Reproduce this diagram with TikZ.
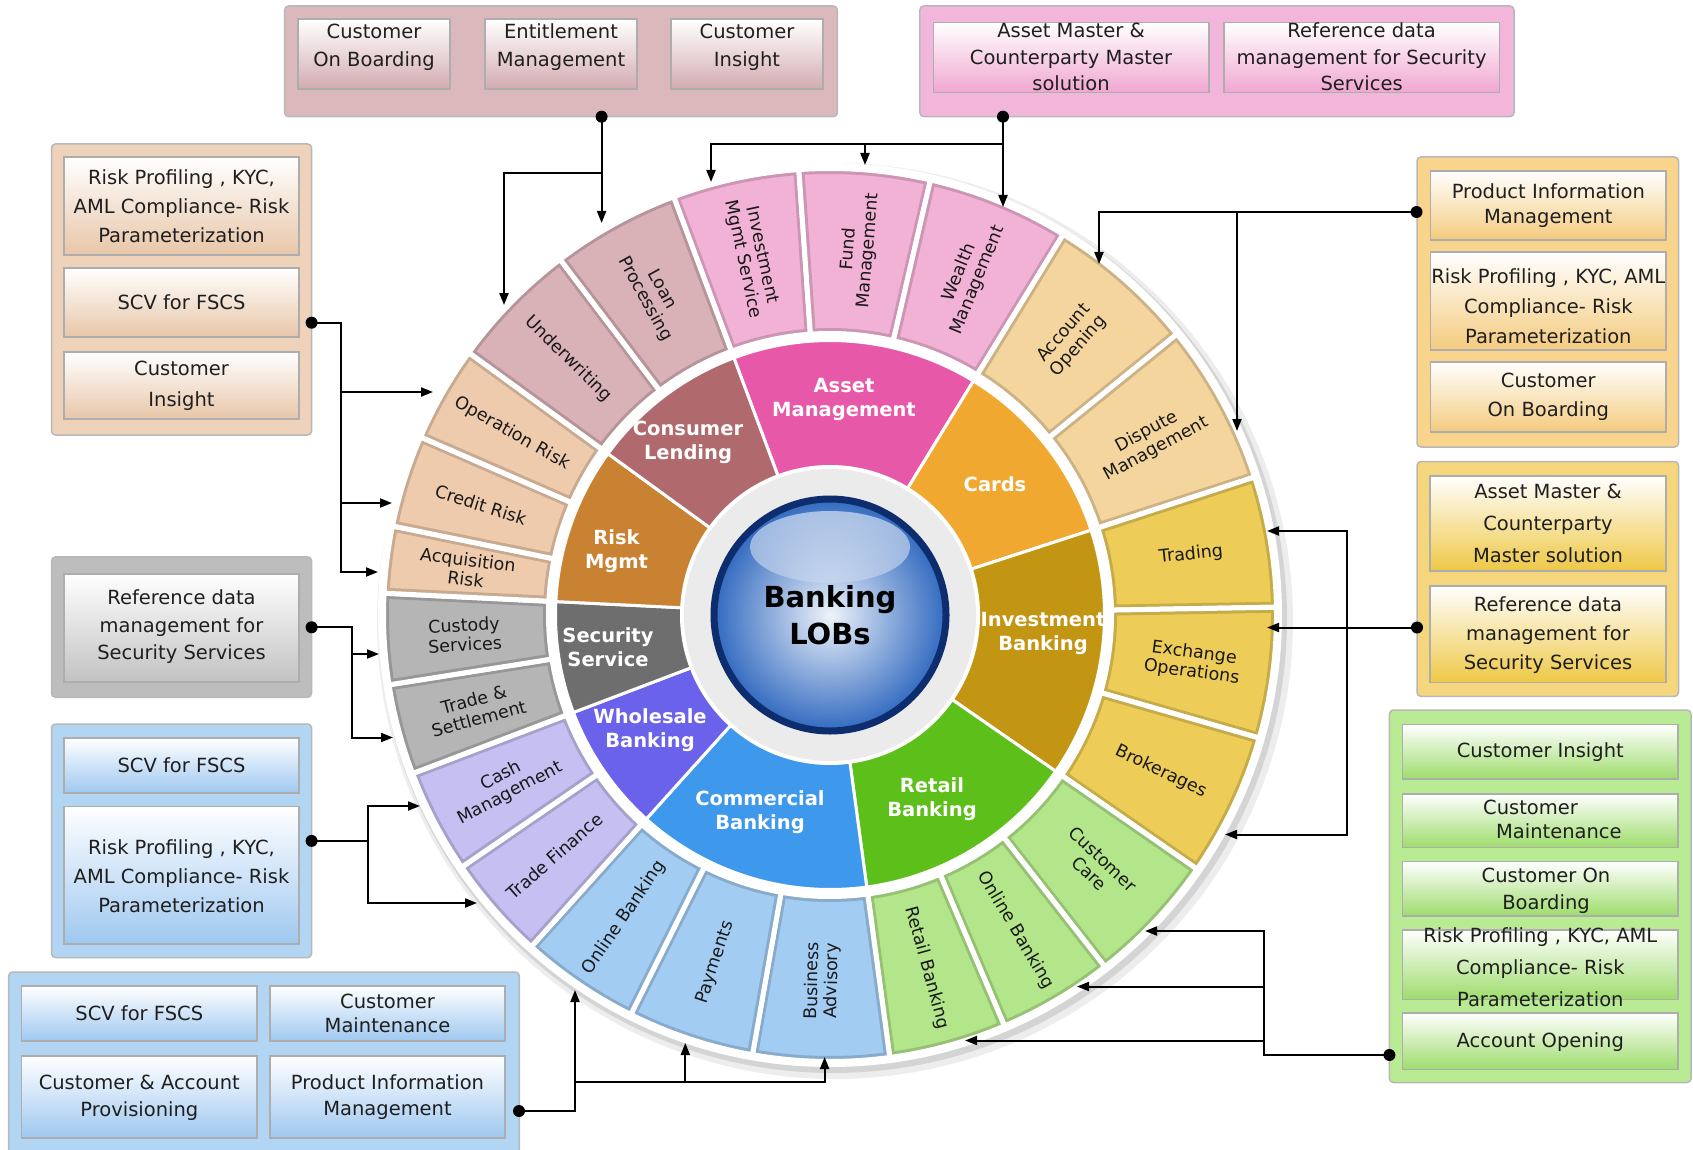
\documentclass[tikz,border=0pt]{standalone}
\usepackage{fontspec}
\setmainfont{DejaVu Sans}
\usetikzlibrary{arrows.meta}
\definecolor{wPink}{HTML}{F2B2D6}
\definecolor{wPeach}{HTML}{F4D59E}
\definecolor{wYel}{HTML}{EDCC58}
\definecolor{wLGreen}{HTML}{B3E68A}
\definecolor{wLBlue}{HTML}{A3CCF2}
\definecolor{wLav}{HTML}{C6C0F2}
\definecolor{wGray}{HTML}{B5B5B5}
\definecolor{wTan}{HTML}{EFCBAD}
\definecolor{wMauve}{HTML}{D9B2B8}
\definecolor{iAsset}{HTML}{E858A8}
\definecolor{iCards}{HTML}{F0A830}
\definecolor{iIB}{HTML}{C29612}
\definecolor{iRetail}{HTML}{5CBF1A}
\definecolor{iComm}{HTML}{3E98EC}
\definecolor{iWhole}{HTML}{6A62EA}
\definecolor{iSec}{HTML}{6E6E6E}
\definecolor{iRisk}{HTML}{C98232}
\definecolor{iCons}{HTML}{B0696C}
\definecolor{sphEdge}{HTML}{2F68BF}
\definecolor{sphIn}{HTML}{EEF3FA}
\definecolor{sphRing}{HTML}{0D2D6E}
\definecolor{kMauve}{HTML}{DAB8BC}
\definecolor{kMauveIn}{HTML}{D3ABB0}
\definecolor{kPink}{HTML}{F2B6DA}
\definecolor{kPinkIn}{HTML}{F0A6D0}
\definecolor{kTan}{HTML}{EFD2BA}
\definecolor{kTanIn}{HTML}{E8C6A8}
\definecolor{kGray}{HTML}{BDBDBD}
\definecolor{kGrayIn}{HTML}{C2C2C2}
\definecolor{kBlue}{HTML}{B3D5F4}
\definecolor{kBlueIn}{HTML}{9FC8F0}
\definecolor{kPeach}{HTML}{F8D48C}
\definecolor{kPeachIn}{HTML}{F4CB7E}
\definecolor{kYel}{HTML}{F6D67C}
\definecolor{kYelIn}{HTML}{EEC846}
\definecolor{kGreen}{HTML}{B8EB94}
\definecolor{kGreenIn}{HTML}{9EDC6C}

\newcommand\boxfnt{\fontsize{19.5}{28}\selectfont}
\newcommand\outfnt{\fontsize{17.5}{19.5}\selectfont}
\newcommand\innfnt{\fontsize{19.5}{24}\selectfont\bfseries}
\newcommand\ctrfnt{\fontsize{29}{36.5}\selectfont\bfseries}
\newcommand\wsec[5]{\filldraw[#5] (#1:#3) arc[start angle=#1, end angle=#2, radius=#3] -- (#2:#4) arc[start angle=#2, end angle=#1, radius=#4] -- cycle;}
% outer segment with a soft darker inner edge
\newcommand\osec[3]{%
  \begin{scope}
    \clip (#1:281.5) arc[start angle=#1, end angle=#2, radius=281.5] -- (#2:446.5) arc[start angle=#2, end angle=#1, radius=446.5] -- cycle;
    \fill[#3] (-460,-460) rectangle (460,460);
    \draw[black, opacity=0.16, line width=11pt, line join=round] (#1:281.5) arc[start angle=#1, end angle=#2, radius=281.5] -- (#2:446.5) arc[start angle=#2, end angle=#1, radius=446.5] -- cycle;
  \end{scope}
  \draw[white, line width=5pt, line join=round] (#1:281.5) arc[start angle=#1, end angle=#2, radius=281.5] -- (#2:446.5) arc[start angle=#2, end angle=#1, radius=446.5] -- cycle;}
\newcommand\olabel[4]{\node[olab, rotate=#3] (#1) at ({830+366*cos(#2)},{615-366*sin(#2)}) {#4};}

\tikzset{
  container/.style={fill=#1, draw=black!28, line width=1.5pt, rounded corners=4pt},
  ibox/.style={draw=black!32, line width=1.6pt, top color=white, bottom color=#1},
  btext/.style={font=\boxfnt, align=center, inner sep=0pt, text=black!88},
  bskip/.style={font={\fontsize{19.5}{#1}\selectfont}},
  olab/.style={font=\outfnt, align=center, inner sep=0pt, text=black!90},
  ilab/.style={font=\innfnt, align=center, inner sep=0pt, text=white},
  dotn/.style={circle, fill=black, inner sep=0pt, minimum size=12pt},
  arr/.style={line width=2pt, -{Triangle[length=12pt,width=9pt]}},
  iseg/.style={fill=#1, draw=white, line width=3pt, line join=round},
}

\begin{document}
\begin{tikzpicture}[x=1pt,y=-1pt]
\useasboundingbox (0,0) rectangle (1693,1150);
\fill[white] (0,0) rectangle (1693,1150);

% ---------------- wheel ----------------
\begin{scope}[shift={(830,615)}, yscale=-1]
  \fill[black, opacity=0.07] (5,-6) circle[radius=458];
  \fill[black, opacity=0.10] (3,-4) circle[radius=454];
  \fill[white] (0,0) circle[radius=452];
  % outer ring
  \osec{110.5}{94}{wPink}
  \osec{94}{77}{wPink}
  \osec{77}{58.5}{wPink}
  \osec{58.5}{39}{wPeach}
  \osec{39}{18}{wPeach}
  \osec{18}{1}{wYel}
  \osec{1}{-16}{wYel}
  \osec{-16}{-34.7}{wYel}
  \osec{-34.7}{-52}{wLGreen}
  \osec{-52}{-67}{wLGreen}
  \osec{-67}{-82.3}{wLGreen}
  \osec{-82.3}{-100}{wLBlue}
  \osec{-100}{-116.5}{wLBlue}
  \osec{-116.5}{-132}{wLBlue}
  \osec{-132}{-145.6}{wLav}
  \osec{-145.6}{-159.2}{wLav}
  \osec{-159.2}{-171}{wGray}
  \osec{-171}{-182.8}{wGray}
  \osec{-182.8}{-191.5}{wTan}
  \osec{-191.5}{-203.5}{wTan}
  \osec{-203.5}{-216}{wTan}
  \osec{-216}{-232.8}{wMauve}
  \osec{-232.8}{-249.5}{wMauve}
  % inner ring
  \wsec{110.5}{58.5}{148}{274.5}{iseg=iAsset}
  \wsec{58.5}{18}{148}{274.5}{iseg=iCards}
  \wsec{18}{-34.7}{148}{274.5}{iseg=iIB}
  \wsec{-34.7}{-82.3}{148}{274.5}{iseg=iRetail}
  \wsec{-82.3}{-132}{148}{274.5}{iseg=iComm}
  \wsec{-132}{-159.2}{148}{274.5}{iseg=iWhole}
  \wsec{-159.2}{-182.8}{148}{274.5}{iseg=iSec}
  \wsec{-182.8}{-216}{148}{274.5}{iseg=iRisk}
  \wsec{-216}{-249.5}{148}{274.5}{iseg=iCons}
  % hub
  \fill[white] (0,0) circle[radius=150];
  \fill[black!8] (0,0) circle[radius=146];
  \shade[inner color=sphIn, outer color=sphEdge] (0,0) circle[radius=118];
\end{scope}
\shade[top color=white, bottom color=sphEdge!25!white, opacity=0.55] (830,547) ellipse[x radius=80, y radius=36];
\draw[sphRing, line width=7pt] (830,615) circle[radius=116];

\node[font=\ctrfnt, align=center, inner sep=0pt] (ctr) at (830,615) {Banking\\LOBs};

% inner labels
\node[ilab] (lAsset) at (844,399) {Asset\\Management};
\node[ilab] (lCards) at (995,484) {Cards};
\node[ilab] (lIB) at (1043,633) {Investment\\Banking};
\node[ilab] (lRetail) at (932,799) {Retail\\Banking};
\node[ilab] (lComm) at (760,812) {Commercial\\Banking};
\node[ilab] (lWhole) at (650,730) {Wholesale\\Banking};
\node[ilab] (lSec) at (608,647) {Security\\Service};
\node[ilab] (lRisk) at (616.5,551) {Risk\\Mgmt};
\node[ilab] (lCons) at (688,442) {Consumer\\Lending};

% outer labels
\olabel{oInvMgmt}{102.25}{-77.75}{Investment\\Mgmt Service}
\olabel{oFund}{85.5}{85.5}{Fund\\Management}
\olabel{oWealth}{67.75}{67.75}{Wealth\\Management}
\olabel{oAccOpen}{48.75}{48.75}{Account\\Opening}
\olabel{oDispute}{28.5}{28.5}{Dispute\\Management}
\olabel{oTrading}{9.5}{6}{Trading}
\olabel{oExch}{-7.5}{-7.5}{Exchange\\Operations}
\olabel{oBrok}{-25.35}{-25.35}{Brokerages}
\olabel{oCare}{-43.35}{-43.35}{Customer\\Care}
\olabel{oOnlineG}{-59.5}{-59.5}{Online Banking}
\olabel{oRetailG}{-74.65}{-74.65}{Retail Banking}
\olabel{oBusAdv}{-91.15}{88.85}{Business\\Advisory}
\olabel{oPay}{-108.25}{71.75}{Payments}
\olabel{oOnlineB}{-124.25}{55.75}{Online Banking}
\olabel{oTradeFin}{-138.8}{41.2}{Trade Finance}
\olabel{oCash}{-152.4}{27.6}{Cash\\Management}
\olabel{oTradeSet}{-165.1}{14.9}{Trade \&\\Settlement}
\olabel{oCustody}{-176.9}{3.1}{Custody\\Services}
\olabel{oAcq}{172.85}{-7.15}{Acquisition\\Risk}
\olabel{oCredit}{162.5}{-17.5}{Credit Risk}
\olabel{oOper}{150.25}{-29.75}{Operation Risk}
\olabel{oUnder}{135.6}{-44.4}{Underwriting}
\olabel{oLoan}{118.85}{-61.15}{Loan\\Processing}

% ---------------- boxes ----------------
% top left
\draw[container=kMauve] (284.6,6) rectangle (837.4,116.7);
\draw[ibox=kMauveIn] (298,19.3) rectangle (450,89.3);
\draw[ibox=kMauveIn] (485,19.3) rectangle (637,89.3);
\draw[ibox=kMauveIn] (671,19.3) rectangle (823,89.3);
\node[btext] (bTL1) at (374,47.5) {Customer\\On Boarding};
\node[btext] (bTL2) at (561,47.5) {Entitlement\\Management};
\node[btext] (bTL3) at (747,47.5) {Customer\\Insight};

% top right
\draw[container=kPink] (919.9,6) rectangle (1514,116.7);
\draw[ibox=kPinkIn] (933.3,22.7) rectangle (1209,92.7);
\draw[ibox=kPinkIn] (1223.7,22.7) rectangle (1499.5,92.7);
\node[btext, bskip=26.5] (bTR1) at (1071,57) {Asset Master \&\\Counterparty Master\\solution};
\node[btext, bskip=26.5] (bTR2) at (1361.6,57) {Reference data\\management for Security\\Services};

% left tan
\draw[container=kTan] (51.5,144) rectangle (311.6,435);
\draw[ibox=kTanIn] (64,157) rectangle (299,255);
\draw[ibox=kTanIn] (64,268) rectangle (299,337);
\draw[ibox=kTanIn] (64,352) rectangle (299,419);
\node[btext, bskip=29] (bLT1) at (181.5,206) {Risk Profiling , KYC,\\AML Compliance- Risk\\Parameterization};
\node[btext] (bLT2) at (181.5,302.5) {SCV for FSCS};
\node[btext, bskip=31] (bLT3) at (181.5,386) {Customer\\Insight};

% left gray
\draw[container=kGray] (51.5,556.9) rectangle (311.6,697.3);
\draw[ibox=kGrayIn] (64,573.7) rectangle (299,682);
\node[btext, bskip=27.5] (bLG) at (181.5,627) {Reference data\\management for\\Security Services};

% left blue
\draw[container=kBlue] (51.5,724) rectangle (311.6,957.6);
\draw[ibox=kBlueIn] (64,738) rectangle (299,793);
\draw[ibox=kBlueIn] (64,806.4) rectangle (299,944);
\node[btext] (bLB1) at (181.5,765.5) {SCV for FSCS};
\node[btext, bskip=29] (bLB2) at (181.5,876) {Risk Profiling , KYC,\\AML Compliance- Risk\\Parameterization};

% bottom blue
\draw[container=kBlue] (8.6,972) rectangle (519.3,1160);
\draw[ibox=kBlueIn] (21.6,986) rectangle (257,1041);
\draw[ibox=kBlueIn] (270,986) rectangle (505,1041);
\draw[ibox=kBlueIn] (21.6,1056) rectangle (257,1138);
\draw[ibox=kBlueIn] (270,1056) rectangle (505,1138);
\node[btext] (bB1) at (139.3,1013.5) {SCV for FSCS};
\node[btext, bskip=24.7] (bB2) at (387.5,1013.5) {Customer\\Maintenance};
\node[btext, bskip=27] (bB3) at (139.3,1097.5) {Customer \& Account\\Provisioning};
\node[btext, bskip=26] (bB4) at (387.5,1097.5) {Product Information\\Management};

% right peach
\draw[container=kPeach] (1417,157) rectangle (1678.5,447);
\draw[ibox=kPeachIn] (1430.6,171) rectangle (1666,240);
\draw[ibox=kPeachIn] (1430.6,252) rectangle (1666,350);
\draw[ibox=kPeachIn] (1430.6,361.7) rectangle (1666,432);
\node[btext, bskip=25] (bRP1) at (1548.3,205.5) {Product Information\\Management};
\node[btext, bskip=30] (bRP2) at (1548.3,306) {Risk Profiling , KYC, AML\\Compliance- Risk\\Parameterization};
\node[btext, bskip=29] (bRP3) at (1548.3,397) {Customer\\On Boarding};

% right yellow
\draw[container=kYel] (1417,461.5) rectangle (1678.5,696.4);
\draw[ibox=kYelIn] (1430,476) rectangle (1666,570.7);
\draw[ibox=kYelIn] (1430,586) rectangle (1666,682.5);
\node[btext, bskip=32] (bRY1) at (1548,523.4) {Asset Master \&\\Counterparty\\Master solution};
\node[btext, bskip=29] (bRY2) at (1548,635.5) {Reference data\\management for\\Security Services};

% right green
\draw[container=kGreen] (1389.4,710) rectangle (1691,1082.5);
\draw[ibox=kGreenIn] (1402.6,724.6) rectangle (1678,779);
\draw[ibox=kGreenIn] (1402.6,793.7) rectangle (1678,847.5);
\draw[ibox=kGreenIn] (1402.6,861.6) rectangle (1678,916);
\draw[ibox=kGreenIn] (1402.6,930) rectangle (1678,999.5);
\draw[ibox=kGreenIn] (1402.6,1013) rectangle (1678,1069.5);
\node[btext] (bRG1) at (1540.3,752) {Customer Insight};
\node[btext, bskip=24] (bRG2) at (1540.3,819.5) {Customer\hspace*{1em}\\\hspace*{1.9em}Maintenance};
\node[btext, bskip=27] (bRG3) at (1546,891) {Customer On\\Boarding};
\node[btext, bskip=32] (bRG4) at (1540.3,967) {Risk Profiling , KYC, AML\\Compliance- Risk\\Parameterization};
\node[btext] (bRG5) at (1540.3,1042) {Account Opening};

% ---------------- connectors ----------------
\node[dotn] (dTL) at (601.6,116.7) {};
\node[dotn] (dTR) at (1003,116.7) {};
\node[dotn] (dLT) at (311.6,322.7) {};
\node[dotn] (dLG) at (311.6,627.3) {};
\node[dotn] (dLB) at (311.6,840.9) {};
\node[dotn] (dB) at (519,1111) {};
\node[dotn] (dRP) at (1416.5,212) {};
\node[dotn] (dRY) at (1417,627.5) {};
\node[dotn] (dRG) at (1389.4,1055) {};

\coordinate (tLoan) at (601.6,223);
\coordinate (tUnder) at (504,305);
\coordinate (tWealth) at (1003,207);
\coordinate (tFund) at (865,165);
\coordinate (tInvM) at (711,182);
\coordinate (jLT) at (340.5,322.7);
\coordinate (tOper) at (433,392);
\coordinate (tCredit) at (392,503);
\coordinate (tAcq) at (378,572);
\coordinate (jLG) at (352.3,627.3);
\coordinate (tCust) at (379,654);
\coordinate (tTrade) at (393,737.5);
\coordinate (jLB) at (367.5,840.9);
\coordinate (tCash) at (420,806);
\coordinate (tTradeFin) at (477,903);
\coordinate (jB) at (575,1111);
\coordinate (kB) at (575,1082.3);
\coordinate (tOnlineB) at (575,990);
\coordinate (tPay) at (685.3,1043);
\coordinate (tBus) at (824.6,1057);
\coordinate (tAccOpen) at (1099,264);
\coordinate (tDispute) at (1237,431);
\coordinate (jRY) at (1347,627.5);
\coordinate (tTrading) at (1267,531);
\coordinate (tExch) at (1267,627.5);
\coordinate (tBrok) at (1225,834.5);
\coordinate (jRG) at (1263.5,1055);
\coordinate (tCare) at (1145,931);
\coordinate (tOnlineG) at (1077,986.5);
\coordinate (tRetailG) at (965,1040.5);

\draw[arr] (dTL.center) -- (tLoan);
\draw[arr] (dTL.center) -- ++(0,56) -| (tUnder);
\draw[arr] (dTR.center) -- (tWealth);
\draw[arr] (dTR.center) -- ++(0,27.3) -| (tFund);
\draw[arr] (dTR.center) -- ++(0,27.3) -| (tInvM);
\draw[arr] (dLT.center) -- (jLT) |- (tOper);
\draw[arr] (dLT.center) -- (jLT) |- (tCredit);
\draw[arr] (dLT.center) -- (jLT) |- (tAcq);
\draw[arr] (dLG.center) -- (jLG) |- (tCust);
\draw[arr] (dLG.center) -- (jLG) |- (tTrade);
\draw[arr] (dLB.center) -- (jLB) |- (tCash);
\draw[arr] (dLB.center) -- (jLB) |- (tTradeFin);
\draw[arr] (dB.center) -- (jB) -- (tOnlineB);
\draw[arr] (dB.center) -- (jB) -- (kB) -| (tPay);
\draw[arr] (dB.center) -- (jB) -- (kB) -| (tBus);
\draw[arr] (dRP.center) -| (tAccOpen);
\draw[arr] (dRP.center) -| (tDispute);
\draw[arr] (dRY.center) -- (tExch);
\draw[arr] (dRY.center) -- (jRY) |- (tTrading);
\draw[arr] (dRY.center) -- (jRY) |- (tBrok);
\draw[arr] (dRG.center) -- (jRG) |- (tCare);
\draw[arr] (dRG.center) -- (jRG) |- (tOnlineG);
\draw[arr] (dRG.center) -- (jRG) |- (tRetailG);
\end{tikzpicture}
\end{document}
